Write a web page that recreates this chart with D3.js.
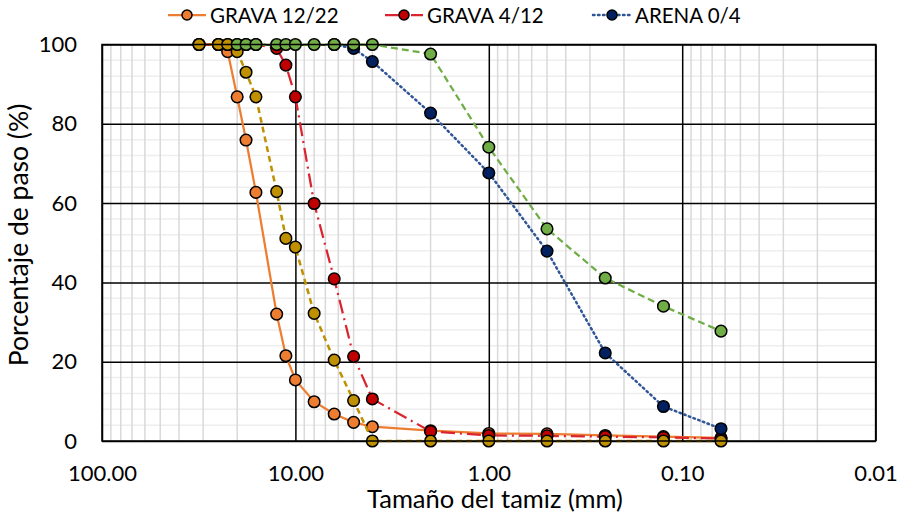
<!DOCTYPE html>
<html>
<head>
<meta charset="utf-8">
<script src="https://cdn.jsdelivr.net/npm/d3@7"></script>
<style>
  body { margin: 0; background: #fff; }
  text { font-family: Lato, "Open Sans", sans-serif; fill: #000; }
</style>
</head>
<body>
<div id="chart"></div>
<script>
// sieve sizes (mm)
var sizes = [31.5, 25, 22.4, 20, 18, 16, 12.5, 11.2, 10, 8, 6.3, 5, 4, 2, 1, 0.5, 0.25, 0.125, 0.063];

// % passing for each material
var grava1222 = [100, 100, 98.2, 86.8, 75.9, 62.7, 32.0, 21.5, 15.4, 9.9, 6.8, 4.7, 3.6, 2.6, 1.9, 1.8, 1.4, 1.1, 0.8];
var grava412  = [100, 100, 100, 100, 100, 100, 99.0, 94.8, 86.8, 59.9, 40.9, 21.3, 10.6, 2.4, 1.4, 1.3, 1.1, 0.9, 0.6];
var arena04   = [null, null, null, null, null, null, null, null, null, null, 100, 99.0, 95.7, 82.7, 67.6, 47.9, 22.2, 8.7, 3.1];
var serie4    = [100, 100, 100, 98.2, 93.0, 86.8, 62.9, 51.1, 48.9, 32.2, 20.4, 10.2, 0, 0, 0, 0, 0, 0, 0];
var serie5    = [null, null, null, 100, 100, 100, 100, 100, 100, 100, 100, 100, 100, 97.6, 74.1, 53.5, 41.1, 34.0, 27.7];

var xTicks = [100, 10, 1, 0.1, 0.01];
var yTicks = [0, 20, 40, 60, 80, 100];
var legendNames = ["GRAVA 12/22", "GRAVA 4/12", "ARENA 0/4"];

var series = [
  {name: legendNames[0], values: grava1222, line: "#ED7D31", fill: "#ED7D31", dash: null, lw: 2.25},
  {name: legendNames[1], values: grava412, line: "#DA2430", fill: "#C00000", dash: "14,5,2,5", lw: 2.25},
  {name: legendNames[2], values: arena04, line: "#2F5597", fill: "#002060", dash: "1.5,3.5", lw: 2.5},
  {name: null, values: serie4, line: "#BF9000", fill: "#BF9000", dash: "6,4", lw: 2.5},
  {name: null, values: serie5, line: "#70AD47", fill: "#70AD47", dash: "7,4", lw: 2.25}
];

var width = 904, height = 518;
var plotLeft = 102, plotRight = 875.6, plotTop = 44.5, plotBottom = 441;

var svg = d3.select("#chart").append("svg")
  .attr("width", width)
  .attr("height", height);

var x = d3.scaleLog().domain([100, 0.01]).range([plotLeft, plotRight]);
var y = d3.scaleLinear().domain([0, 100]).range([plotBottom, plotTop]);

// minor grid
var minorX = [];
[0.01, 0.1, 1, 10].forEach(function(k) {
  for (var i = 2; i <= 9; i++) minorX.push(k * i);
});
var minorY = d3.range(0, 101, 4).filter(function(v) { return v % 20 != 0; });

svg.append("g").selectAll("line")
  .data(minorY).enter().append("line")
  .attr("x1", plotLeft).attr("x2", plotRight)
  .attr("y1", function(d) { return y(d); })
  .attr("y2", function(d) { return y(d); })
  .attr("stroke", "#eeeeee").attr("stroke-width", 1.5);

svg.append("g").selectAll("line")
  .data(minorX).enter().append("line")
  .attr("x1", function(d) { return x(d); })
  .attr("x2", function(d) { return x(d); })
  .attr("y1", plotTop).attr("y2", plotBottom)
  .attr("stroke", "#d9d9d9").attr("stroke-width", 1.5);

// major grid
svg.append("g")
  .attr("transform", "translate(0," + plotBottom + ")")
  .call(d3.axisBottom(x).tickValues(xTicks).tickSize(-(plotBottom - plotTop)).tickFormat(""))
  .call(function(g) { g.select(".domain").remove(); })
  .selectAll("line").attr("stroke", "#000").attr("stroke-width", 1.5);

svg.append("g")
  .attr("transform", "translate(" + plotLeft + ",0)")
  .call(d3.axisLeft(y).tickValues(yTicks).tickSize(-(plotRight - plotLeft)).tickFormat(""))
  .call(function(g) { g.select(".domain").remove(); })
  .selectAll("line").attr("stroke", "#000").attr("stroke-width", 1.5);

// tick labels
var xAxis = svg.append("g")
  .attr("transform", "translate(0," + plotBottom + ")")
  .call(d3.axisBottom(x).tickValues(xTicks).tickSize(0).tickPadding(24).tickFormat(d3.format(".2f")));
xAxis.select(".domain").remove();
xAxis.selectAll("text").style("font-size", "22px").style("font-family", "Lato, sans-serif");

var yAxis = svg.append("g")
  .attr("transform", "translate(" + plotLeft + ",0)")
  .call(d3.axisLeft(y).tickValues(yTicks).tickSize(0).tickPadding(25).tickFormat(d3.format("d")));
yAxis.select(".domain").remove();
yAxis.selectAll("text").style("font-size", "22px").style("font-family", "Lato, sans-serif");

// axis titles
svg.append("text")
  .attr("x", 495)
  .attr("y", 508)
  .attr("text-anchor", "middle")
  .style("font-size", "25.5px")
  .text("Tamaño del tamiz (mm)");

svg.append("text")
  .attr("transform", "translate(28,235) rotate(-90)")
  .attr("text-anchor", "middle")
  .style("font-size", "26.5px")
  .text("Porcentaje de paso (%)");

// series
var lineGen = d3.line()
  .defined(function(d) { return d.v != null; })
  .x(function(d) { return x(d.s); })
  .y(function(d) { return y(d.v); });

series.forEach(function(s) {
  var pts = sizes.map(function(sz, i) { return {s: sz, v: s.values[i]}; });
  var g = svg.append("g");
  g.append("path")
    .datum(pts)
    .attr("d", lineGen)
    .attr("fill", "none")
    .attr("stroke", s.line)
    .attr("stroke-width", s.lw)
    .attr("stroke-linecap", s.dash == "1.5,3.5" ? "round" : "butt")
    .attr("stroke-dasharray", s.dash);
  g.selectAll("circle")
    .data(pts.filter(function(d) { return d.v != null; }))
    .enter().append("circle")
    .attr("cx", function(d) { return x(d.s); })
    .attr("cy", function(d) { return y(d.v); })
    .attr("r", 5.8)
    .attr("fill", s.fill)
    .attr("stroke", "#000")
    .attr("stroke-width", 1.5);
});

// plot frame
svg.append("rect")
  .attr("x", plotLeft).attr("y", plotTop)
  .attr("width", plotRight - plotLeft).attr("height", plotBottom - plotTop)
  .attr("fill", "none").attr("stroke", "#000").attr("stroke-width", 1.5);

// legend
var legendX = [168, 385, 593];
var legend = svg.append("g");
series.slice(0, 3).forEach(function(s, i) {
  var lg = legend.append("g").attr("transform", "translate(" + legendX[i] + ",15)");
  lg.append("line")
    .attr("x1", 0).attr("x2", 38).attr("y1", 0).attr("y2", 0)
    .attr("stroke", s.line).attr("stroke-width", s.lw)
    .attr("stroke-linecap", s.dash == "1.5,3.5" ? "round" : "butt")
    .attr("stroke-dasharray", s.dash);
  lg.append("circle")
    .attr("cx", 19).attr("cy", 0).attr("r", 5)
    .attr("fill", s.fill).attr("stroke", "#000").attr("stroke-width", 1.5);
  lg.append("text")
    .attr("x", 42).attr("y", 7.5)
    .style("font-size", "20.5px")
    .text(s.name);
});
</script>
</body>
</html>
